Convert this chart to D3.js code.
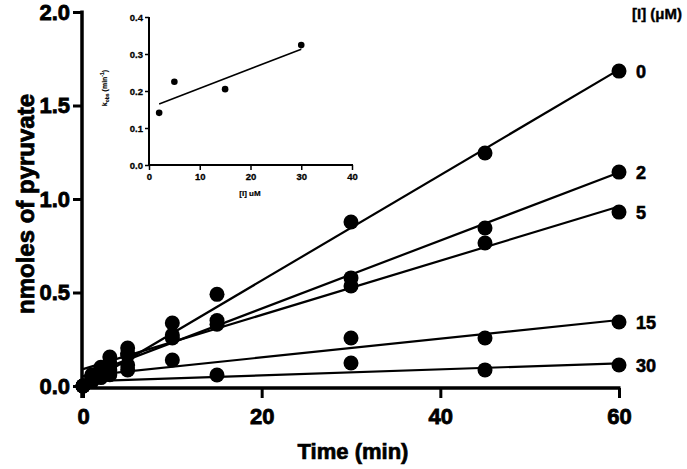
<!DOCTYPE html>
<html><head><meta charset="utf-8">
<script src="https://cdn.jsdelivr.net/npm/d3@7"></script>
<style>html,body{margin:0;padding:0;background:#fff}svg{display:block}</style>
</head><body>
<svg id="c" width="687" height="469"></svg>
<script>
// ---- main chart data ----
const times = [0, 1, 2, 3, 5, 10, 15, 30, 45, 60];
const seriesNames = ["0", "2", "5", "15", "30"];
const s0  = [0, 0.06, 0.10, 0.155, 0.203, 0.337, 0.49, 0.877, 1.246, 1.684];
const s2  = [0, 0.05, 0.085, 0.123, 0.175, 0.273, 0.35, 0.578, 0.845, 1.144];
const s5  = [0, 0.045, 0.075, 0.11, 0.166, 0.257, 0.33, 0.535, 0.765, 0.93];
const s15 = [0, 0.035, 0.06, 0.086, 0.112, 0.139, null, 0.257, 0.257, 0.342];
const s30 = [0, 0.025, 0.045, 0.06, 0.086, null, 0.059, 0.123, 0.086, 0.112];
const fitIntercept = [0, 0.05, 0.09, 0.053, 0.025];
const fitSlope = [0.0282, 0.0182, 0.0145, 0.005, 0.0016];
const xTicks = [0, 20, 40, 60];
const yTicks = [0, 0.5, 1.0, 1.5, 2.0];

// ---- inset data ----
const insetConc = [2, 5, 15, 30];
const insetKobs = [0.141, 0.225, 0.205, 0.324];
const insetFitX = [2, 30];
const insetFitY = [0.165, 0.313];
const insetXTicks = [0, 10, 20, 30, 40];
const insetYTicks = [0, 0.1, 0.2, 0.3, 0.4];

const allSeries = [s0, s2, s5, s15, s30];
const svg = d3.select("#c");
const FONT = "Liberation Sans, Arial, Helvetica, sans-serif";

function heavy(sel, w) {
  return sel.attr("font-family", FONT).attr("font-weight", "bold").attr("fill", "#000")
    .attr("stroke", "#000").attr("stroke-width", w).attr("paint-order", "stroke");
}

// main scales
const x = d3.scaleLinear().domain([0, 60]).range([83, 619]);
const y = d3.scaleLinear().domain([0, 2]).range([386, 12]);

// axes
const yAx = svg.append("g").attr("transform", "translate(82,0)")
  .call(d3.axisLeft(y).tickValues(yTicks).tickFormat(d3.format(".1f")).tickSize(9).tickPadding(3));
const xAx = svg.append("g").attr("transform", "translate(0,388)")
  .call(d3.axisBottom(x).tickValues(xTicks).tickFormat(d3.format("d")).tickSize(10).tickPadding(10));
[yAx, xAx].forEach(g => {
  g.select(".domain").remove();
  g.selectAll("line").attr("stroke", "#000").attr("stroke-width", 3);
  heavy(g.selectAll("text"), 0.8).attr("font-size", 22);
});
// axis lines
svg.append("line").attr("x1", 82).attr("x2", 82).attr("y1", y(2) - 1.5).attr("y2", 398)
  .attr("stroke", "#000").attr("stroke-width", 3.5);
svg.append("line").attr("x1", 82).attr("x2", x(60) + 1.5).attr("y1", 388).attr("y2", 388)
  .attr("stroke", "#000").attr("stroke-width", 3.5);

// fit lines
const fits = svg.append("g");
allSeries.forEach((s, i) => {
  fits.append("line")
    .attr("x1", x(0)).attr("y1", y(fitIntercept[i]))
    .attr("x2", x(60)).attr("y2", y(fitIntercept[i] + fitSlope[i] * 60))
    .attr("stroke", "#000").attr("stroke-width", 2.2);
});

// points
const pts = svg.append("g");
allSeries.forEach((s) => {
  s.forEach((v, j) => {
    if (v === null) return;
    pts.append("circle").attr("cx", x(times[j])).attr("cy", y(v)).attr("r", 7.5).attr("fill", "#000");
  });
});

// series labels
allSeries.forEach((s, i) => {
  heavy(svg.append("text").attr("x", 636).attr("y", y(s[s.length - 1]))
    .attr("dy", "0.36em"), 0.6).attr("font-size", 18).text(seriesNames[i]);
});
heavy(svg.append("text").attr("x", 657).attr("y", 19).attr("text-anchor", "middle"), 0.4)
  .attr("font-size", 15).text("[I] (μM)");

// axis titles
heavy(svg.append("text").attr("transform", "translate(34,204) rotate(-90)").attr("text-anchor", "middle"), 0.8)
  .attr("font-size", 24).text("nmoles of pyruvate");
heavy(svg.append("text").attr("x", 353).attr("y", 459).attr("text-anchor", "middle"), 0.7)
  .attr("font-size", 22).text("Time (min)");

// ---- inset ----
const ix = d3.scaleLinear().domain([0, 40]).range([149, 352]);
const iy = d3.scaleLinear().domain([0, 0.4]).range([165, 17]);
const iyAx = svg.append("g").attr("transform", "translate(149,0)")
  .call(d3.axisLeft(iy).tickValues(insetYTicks).tickFormat(d3.format(".1f")).tickSize(4).tickPadding(2));
const ixAx = svg.append("g").attr("transform", "translate(0,165)")
  .call(d3.axisBottom(ix).tickValues(insetXTicks).tickFormat(d3.format("d")).tickSize(5).tickPadding(3));
[iyAx, ixAx].forEach(g => {
  g.select(".domain").remove();
  g.selectAll("line").attr("stroke", "#000").attr("stroke-width", 1.5);
  heavy(g.selectAll("text"), 0.3).attr("font-size", 9.5);
});
svg.append("line").attr("x1", 149).attr("x2", 149).attr("y1", iy(0.4)).attr("y2", 166)
  .attr("stroke", "#000").attr("stroke-width", 2);
svg.append("line").attr("x1", 148).attr("x2", ix(40) + 1).attr("y1", 165).attr("y2", 165)
  .attr("stroke", "#000").attr("stroke-width", 2);
svg.append("line")
  .attr("x1", ix(insetFitX[0])).attr("y1", iy(insetFitY[0]))
  .attr("x2", ix(insetFitX[1])).attr("y2", iy(insetFitY[1]))
  .attr("stroke", "#000").attr("stroke-width", 1.5);
insetConc.forEach((c, i) => {
  svg.append("circle").attr("cx", ix(c)).attr("cy", iy(insetKobs[i])).attr("r", 3.3).attr("fill", "#000");
});
heavy(svg.append("text").attr("x", 250).attr("y", 196).attr("text-anchor", "middle"), 0.2)
  .attr("font-size", 8).text("[I] uM");
const kt = heavy(svg.append("text").attr("transform", "translate(107,88) rotate(-90)").attr("text-anchor", "middle"), 0.15)
  .attr("font-size", 7);
kt.append("tspan").text("k");
kt.append("tspan").attr("font-size", 5).attr("dy", 1.5).text("obs");
kt.append("tspan").attr("dy", -1.5).text(" (min");
kt.append("tspan").attr("font-size", 5).attr("dy", -3).text("-1");
kt.append("tspan").attr("dy", 3).text(")");
</script>
</body></html>
